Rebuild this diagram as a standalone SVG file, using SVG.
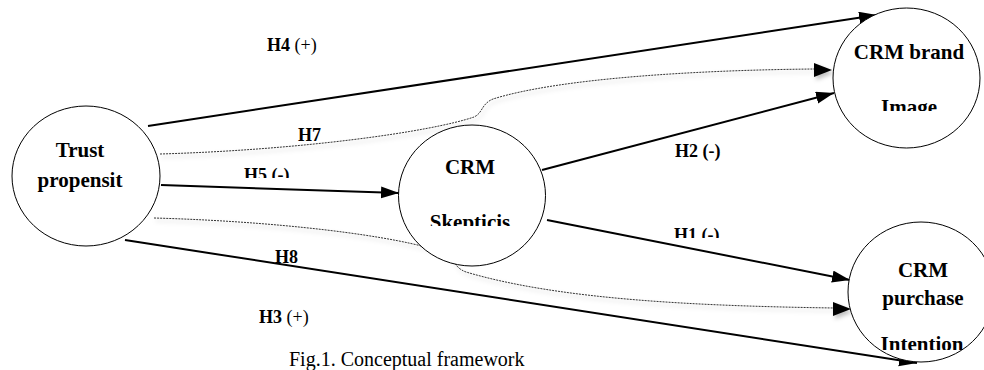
<svg xmlns="http://www.w3.org/2000/svg" width="984" height="370" viewBox="0 0 984 370">
<style>
.node{fill:#fff;stroke:#000;stroke-width:1}
.nt{font-family:"Liberation Serif","Times New Roman",serif;font-weight:bold;font-size:21px;fill:#000;text-anchor:middle}
.lb{font-family:"Liberation Serif","Times New Roman",serif;font-weight:bold;font-size:18px;fill:#000}
.lb .n{font-weight:normal}
.arr{fill:none;stroke:#000;stroke-width:2}
.dot{fill:none;stroke:#333;stroke-width:1;stroke-dasharray:2 1}
.head{fill:#000}
.cap{font-family:"Liberation Serif","Times New Roman",serif;font-size:20px;fill:#000}
</style>
<defs>
<marker id="ah" markerUnits="userSpaceOnUse" markerWidth="20" markerHeight="14" refX="18" refY="6" orient="auto">
<path d="M0,0 L18,6 L0,12 z" fill="#000"/>
</marker>
<filter id="sh" filterUnits="userSpaceOnUse" x="0" y="0" width="984" height="370">
<feDropShadow dx="2" dy="3" stdDeviation="2" flood-color="#000" flood-opacity="0.25"/>
</filter>
<clipPath id="cSk"><rect x="380" y="200" width="180" height="26"/></clipPath>
<clipPath id="cIm"><rect x="830" y="90" width="150" height="21"/></clipPath>
<clipPath id="cIn"><rect x="850" y="320" width="134" height="30"/></clipPath>
<clipPath id="cH5"><rect x="230" y="150" width="80" height="28"/></clipPath>
<clipPath id="cH1"><rect x="660" y="215" width="80" height="23"/></clipPath>
</defs>

<g id="connectors">
<line id="H4" class="arr" x1="148" y1="126" x2="877" y2="15" marker-end="url(#ah)"/>
<g id="H7" filter="url(#sh)">
<path class="dot" d="M160,154 C300,150 430,132 474,117 C483,113 481,104 493,99 C560,78 700,70 815,69"/>
<polygon class="head" points="814,63 832,70 814,77"/>
</g>
<line id="H5" class="arr" x1="161" y1="185" x2="399" y2="193" marker-end="url(#ah)"/>
<line id="H2" class="arr" x1="542" y1="170" x2="834" y2="93" marker-end="url(#ah)"/>
<line id="H1" class="arr" x1="547" y1="220" x2="850" y2="280" marker-end="url(#ah)"/>
<g id="H8" filter="url(#sh)">
<path class="dot" d="M154,218 C300,222 420,240 448,255 C456,260 453,267 466,272 C560,300 700,306 834,308"/>
<polygon class="head" points="833,302 851,309 833,316"/>
</g>
<line id="H3" class="arr" x1="125" y1="240" x2="917" y2="363" marker-end="url(#ah)"/>
</g>

<g id="trust">
<ellipse class="node" cx="86" cy="176" rx="74" ry="70"/>
<text class="nt" x="80" y="157">Trust</text>
<text class="nt" x="80" y="187">propensit</text>
</g>

<g id="skepticism">
<ellipse class="node" cx="472" cy="195.5" rx="73.5" ry="70.5"/>
<text class="nt" x="470" y="174">CRM</text>
<text class="nt" x="470" y="229" clip-path="url(#cSk)">Skepticis</text>
</g>

<g id="brandimage">
<ellipse class="node" cx="906.5" cy="78" rx="73.5" ry="70"/>
<text class="nt" x="909" y="59">CRM brand</text>
<text class="nt" x="909" y="114" clip-path="url(#cIm)">Image</text>
</g>

<g id="purchase">
<ellipse class="node" cx="921" cy="292" rx="73" ry="70"/>
<text class="nt" x="923" y="277">CRM</text>
<text class="nt" x="923" y="305">purchase</text>
<text class="nt" x="922" y="351" clip-path="url(#cIn)">Intention</text>
</g>

<g id="labels">
<text class="lb" x="267" y="51">H4 <tspan class="n">(+)</tspan></text>
<text class="lb" x="298" y="141">H7</text>
<text class="lb" x="244" y="181" clip-path="url(#cH5)">H5 (-)</text>
<text class="lb" x="675" y="157">H2 (-)</text>
<text class="lb" x="674" y="241" clip-path="url(#cH1)">H1 (-)</text>
<text class="lb" x="275" y="263">H8</text>
<text class="lb" x="259" y="323">H3 <tspan class="n">(+)</tspan></text>
</g>

<text class="cap" x="289" y="366">Fig.1. Conceptual framework</text>
</svg>
